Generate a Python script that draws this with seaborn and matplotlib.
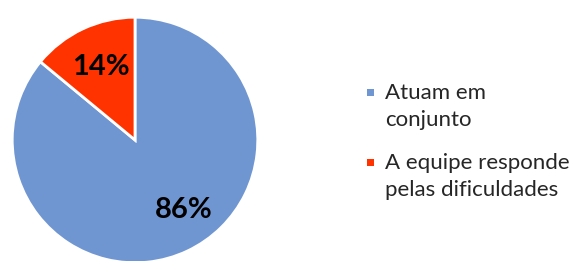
import matplotlib
matplotlib.use("Agg")
import matplotlib.pyplot as plt
import seaborn as sns
from matplotlib.patches import Patch, Rectangle
from matplotlib.legend_handler import HandlerPatch

labels = ["Atuam em\nconjunto", "A equipe responde\npelas dificuldades"]
values = [86, 14]
colors = ["#7096D1", "#FF3300"]

sns.set_theme(style="white")
plt.rcParams["font.family"] = ["Lato", "DejaVu Sans"]


class TopSquare(HandlerPatch):
    # small square aligned with the first line of a two-line label
    def create_artists(self, legend, orig_handle, xdescent, ydescent,
                       width, height, fontsize, trans):
        s = 5.0
        shift = 0.62 * fontsize
        p = Rectangle((-xdescent, -ydescent + height / 2 - s / 2 + shift), s, s,
                      facecolor=orig_handle.get_facecolor(), edgecolor="none",
                      transform=trans)
        return [p]


fig = plt.figure(figsize=(5.74, 2.61), dpi=100)
# pie area in figure pixels: center (135, 140), radius 124
r = 124
ax = fig.add_axes([(135 - r) / 574, (261 - 140 - r) / 261, 2 * r / 574, 2 * r / 261])
wedges, texts, autotexts = ax.pie(
    values, colors=colors, startangle=90, counterclock=False,
    autopct="%d%%", pctdistance=0.66,
    wedgeprops=dict(edgecolor="white", linewidth=2),
    textprops=dict(fontsize=21, fontweight="bold", color="black"),
)
# Excel places the big label a little further right
x, y = autotexts[0].get_position()
autotexts[0].set_position((x + 0.12, y + 0.03))
ax.set_xlim(-1.01, 1.01)
ax.set_ylim(-1.01, 1.01)
ax.set_aspect("equal")
ax.axis("off")

handles = [Patch(facecolor=c, edgecolor="none") for c in colors]
leg = fig.legend(handles, labels, loc="upper left", bbox_to_anchor=(367 / 574, 1 - 83 / 261),
                 frameon=False, fontsize=16, handlelength=0.4, handleheight=0.5,
                 handletextpad=0.4, labelspacing=1.02, borderaxespad=0, borderpad=0,
                 handler_map={Patch: TopSquare()})
for t in leg.get_texts():
    t.set_linespacing(1.45)

fig.savefig("out.png", dpi=100)
